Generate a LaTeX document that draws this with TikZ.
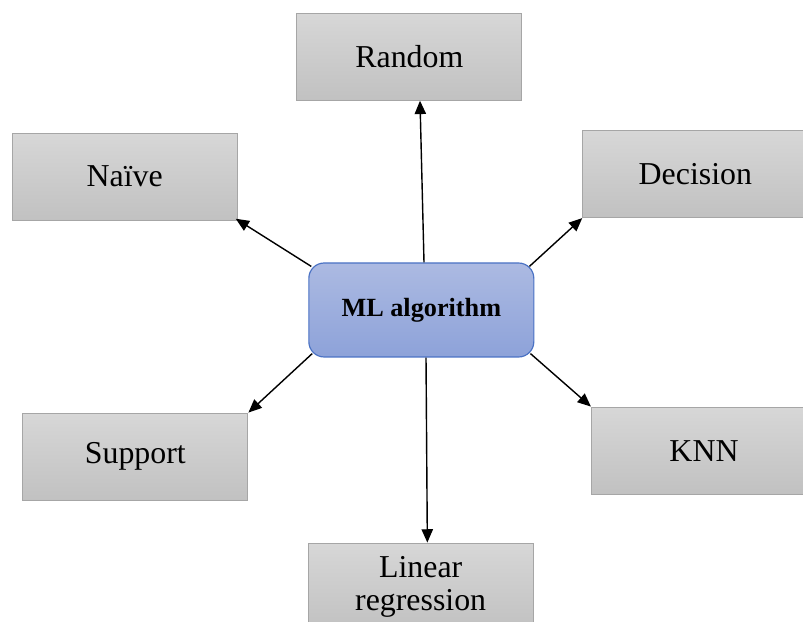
\documentclass[tikz,border=0pt]{standalone}
\usepackage{fontspec}
\setmainfont{Liberation Serif}
\usetikzlibrary{arrows.meta}

\definecolor{grayhi}{HTML}{D7D7D7}
\definecolor{graylo}{HTML}{C1C1C1}
\definecolor{grayrim}{HTML}{A6A6A6}
\definecolor{bluehi}{HTML}{ACBAE2}
\definecolor{bluelo}{HTML}{8DA2D9}
\definecolor{bluerim}{HTML}{4A72C4}

\begin{document}
\begin{tikzpicture}[>={Triangle[length=2mm,width=1.7mm]},
 method/.style={draw=grayrim,line width=0.5pt,top color=grayhi,bottom color=graylo,
  minimum width=3.375cm,minimum height=1.305cm,align=center,
  font=\fontsize{13.6}{14}\selectfont},
 core/.style={draw=bluerim,line width=0.5pt,top color=bluehi,bottom color=bluelo,
  rounded corners=2.3mm,minimum width=3.375cm,minimum height=1.41cm,
  font=\fontsize{11.2}{13}\selectfont\bfseries}]
 \clip (0,0) rectangle (12.045,9.33);
 \node[core] (ml) at (6.32,4.68) {ML algorithm};
 \node[method] (random) at (6.14,8.48) {Random};
 \node[method] (naive) at (1.87,6.68) {Naïve};
 \node[method] (decision) at (10.43,6.72) {Decision};
 \node[method] (support) at (2.03,2.48) {Support};
 \node[method] (knn) at (10.56,2.57) {KNN};
 \node[method] (linear) at (6.31,0.53) {Linear\\regression};
 \draw[->,line width=0.6pt] ([xshift=0.4mm]ml.north) -- ([xshift=1.6mm]random.south);
 \draw[->,line width=0.6pt] ([shift={(0.45mm,-0.6mm)}]ml.north west) -- ([shift={(-0.3mm,0.3mm)}]naive.south east);
 \draw[->,line width=0.6pt] ([shift={(-0.75mm,-0.6mm)}]ml.north east) -- (decision.south west);
 \draw[->,line width=0.6pt] ([shift={(0.6mm,0.6mm)}]ml.south west) -- (support.north east);
 \draw[->,line width=0.6pt] ([shift={(-0.6mm,0.6mm)}]ml.south east) -- (knn.north west);
 \draw[->,line width=0.6pt] ([xshift=0.7mm]ml.south) -- ([xshift=1mm]linear.north);
\end{tikzpicture}
\end{document}
